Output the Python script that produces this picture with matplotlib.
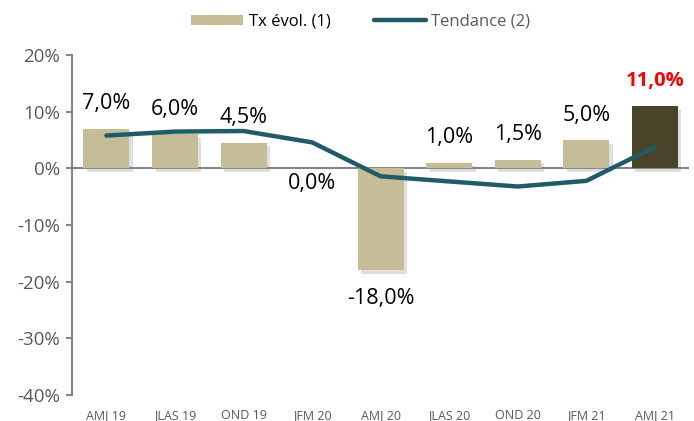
import matplotlib
matplotlib.use("Agg")
import matplotlib.pyplot as plt
import matplotlib.patheffects as pe
from matplotlib.patches import Patch
from matplotlib.lines import Line2D
from matplotlib.ticker import FuncFormatter

plt.rcParams['font.family'] = ['Open Sans', 'DejaVu Sans']

# data
periods = ['AMJ 19', 'JLAS 19', 'OND 19', 'JFM 20', 'AMJ 20',
           'JLAS 20', 'OND 20', 'JFM 21', 'AMJ 21']
tx_evol = [7.0, 6.0, 4.5, 0.0, -18.0, 1.0, 1.5, 5.0, 11.0]
tendance = [5.8, 6.5, 6.6, 4.6, -1.4, -2.3, -3.2, -2.2, 3.8]
yticks = [20, 10, 0, -10, -20, -30, -40]

bar_col = '#C4BD97'
last_col = '#494429'
line_col = '#215B68'
grey = '#595959'

fig = plt.figure(figsize=(6.94, 4.21), dpi=100)
ax = fig.add_axes([0.104, 0.062, 0.889, 0.807])

x = list(range(len(periods)))
colors = [bar_col] * (len(periods) - 1) + [last_col]
bars = ax.bar(x, tx_evol, width=0.67, color=colors, zorder=2)
shadow = [pe.SimplePatchShadow(offset=(2.5, -2.5), shadow_rgbFace='#8c8c8c',
                               alpha=0.28), pe.Normal()]
for b in bars:
    b.set_path_effects(shadow)

ax.axhline(0, color='#868686', lw=1.5, zorder=1.5)

ax.plot(x, tendance, color=line_col, lw=3.2, solid_capstyle='round',
        solid_joinstyle='round', zorder=3)

# data labels
for i, v in enumerate(tx_evol):
    txt = ('%.1f%%' % v).replace('.', ',')
    if v > 0:
        off = 18
    elif v == 0:
        off = -11
    else:
        off = -20
    last = i == len(tx_evol) - 1
    ax.annotate(txt, (i, v), xytext=(0, off), textcoords='offset points',
                ha='center', va='center', fontsize=15.5 if not last else 14.5,
                color='red' if last else 'black',
                fontweight='bold' if last else 'normal', zorder=4)

ax.set_xlim(-0.5, len(periods) - 0.5)
ax.set_ylim(-40, 20)
ax.set_yticks(yticks)
ax.yaxis.set_major_formatter(FuncFormatter(lambda v, p: '%d%%' % v))
ax.set_xticks(x)
ax.set_xticklabels(periods)

for s in ['top', 'right', 'bottom']:
    ax.spines[s].set_visible(False)
ax.spines['left'].set_color('#868686')
ax.spines['left'].set_linewidth(1.5)
ax.tick_params(axis='y', direction='out', length=4.5, width=1.5,
               color='#868686', labelsize=13.5, labelcolor=grey, pad=4)
ax.tick_params(axis='x', length=0, labelsize=9, labelcolor=grey, pad=10)

handles = [Patch(facecolor=bar_col, edgecolor='none'),
           Line2D([], [], color=line_col, lw=3.2, solid_capstyle='round')]
leg = fig.legend(handles, ['Tx évol. (1)', 'Tendance (2)'], loc='center',
                 bbox_to_anchor=(0.52, 0.948), ncol=2, frameon=False,
                 fontsize=12, handlelength=3.1, handletextpad=0.35,
                 columnspacing=2.6, handleheight=0.55)
leg.get_texts()[1].set_color(grey)

fig.savefig('out.png', dpi=100)
